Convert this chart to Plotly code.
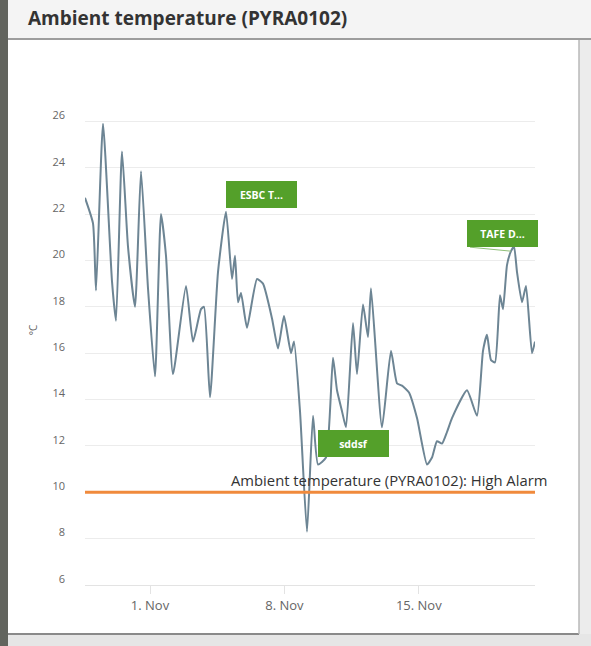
import plotly.graph_objects as go

# ---- data ----
times = [
    "2023-10-28 14:45", "2023-10-29 00:45", "2023-10-29 04:30", "2023-10-29 13:15",
    "2023-10-30 00:30", "2023-10-30 05:30", "2023-10-30 13:00", "2023-10-30 20:30",
    "2023-10-31 05:15", "2023-10-31 12:45", "2023-10-31 21:30", "2023-11-01 06:15",
    "2023-11-01 13:45", "2023-11-01 20:00", "2023-11-02 04:45", "2023-11-02 21:00",
    "2023-11-03 05:45", "2023-11-03 15:45", "2023-11-03 19:30", "2023-11-04 03:00",
    "2023-11-04 13:00", "2023-11-04 23:00", "2023-11-05 06:30", "2023-11-05 10:15",
    "2023-11-05 14:00", "2023-11-05 17:45", "2023-11-06 01:15", "2023-11-06 13:45",
    "2023-11-06 21:15", "2023-11-07 08:30", "2023-11-07 16:00", "2023-11-07 23:30",
    "2023-11-08 08:15", "2023-11-08 12:00", "2023-11-08 19:30", "2023-11-09 04:15",
    "2023-11-09 11:45", "2023-11-09 18:00", "2023-11-10 04:00", "2023-11-10 12:45",
    "2023-11-10 17:45", "2023-11-11 00:00", "2023-11-11 05:00", "2023-11-11 13:45",
    "2023-11-11 18:45", "2023-11-12 02:15", "2023-11-12 08:30", "2023-11-12 12:15",
    "2023-11-13 02:00", "2023-11-13 13:15", "2023-11-13 20:45", "2023-11-14 03:00",
    "2023-11-14 11:45", "2023-11-14 21:45", "2023-11-15 10:15", "2023-11-15 16:30",
    "2023-11-15 22:45", "2023-11-16 05:00", "2023-11-16 11:15", "2023-11-16 17:30",
    "2023-11-17 12:15", "2023-11-18 00:45", "2023-11-18 08:15", "2023-11-18 13:15",
    "2023-11-18 18:15", "2023-11-18 23:15", "2023-11-19 05:30", "2023-11-19 09:15",
    "2023-11-19 14:15", "2023-11-19 19:15", "2023-11-19 23:00", "2023-11-20 02:45",
    "2023-11-20 09:00", "2023-11-20 14:00", "2023-11-20 21:30", "2023-11-21 01:15",
]
temps = [
    22.7, 21.6, 18.7, 25.9,
    19.1, 17.4, 24.7, 20.6,
    18.0, 23.85, 18.8, 15.0,
    22.0, 20.2, 15.1, 18.9,
    16.5, 17.9, 18.0, 14.1,
    19.5, 22.1, 19.2, 20.2,
    18.2, 18.6, 17.1, 19.2,
    19.0, 17.5, 16.2, 17.6,
    16.0, 16.5, 13.5, 8.3,
    13.3, 11.2, 11.5, 15.8,
    14.4, 13.5, 12.8, 17.3,
    15.1, 18.1, 16.7, 18.8,
    12.8, 16.1, 14.7, 14.6,
    14.3, 13.2, 11.2, 11.5,
    12.2, 12.1, 12.6, 13.2,
    14.4, 13.3, 16.1, 16.8,
    15.7, 15.6, 18.5, 17.9,
    19.8, 20.4, 20.6, 19.5,
    18.2, 18.9, 16.0, 16.5,
]
alarm_level = 10
alarm_label = "Ambient temperature (PYRA0102): High Alarm"
title_text = "Ambient temperature (PYRA0102)"
y_title = "°C"

note_texts = ["ESBC T...", "sddsf", "TAFE D..."]
note_times = ["2023-11-04 23:00", "2023-11-09 20:00", "2023-11-19 19:15"]
note_values = [22.1, 11.4, 20.4]

x_tickvals = ["2023-11-01", "2023-11-08", "2023-11-15"]
x_ticktext = ["1. Nov", "8. Nov", "15. Nov"]
y_tickvals = [6, 8, 10, 12, 14, 16, 18, 20, 22, 24, 26, 28]
y_ticktext = ["6", "8", "10", "12", "14", "16", "18", "20", "22", "24", "26", ""]

# ---- layout geometry (pixels) ----
W, H = 591, 646
L, R, T, B = 85, 535, 75, 585


def px(x):
    return (x - L) / (R - L)


def py(y):
    return (B - y) / (B - T)


fig = go.Figure()
fig.add_trace(go.Scatter(
    x=times, y=temps, mode="lines",
    line=dict(color="#6d8594", width=2, shape="spline", smoothing=0.5),
    hoverinfo="skip", showlegend=False,
))
fig.add_trace(go.Scatter(
    x=[times[0], times[-1]], y=[alarm_level, alarm_level], mode="lines",
    line=dict(color="#f08a3c", width=3), hoverinfo="skip", showlegend=False,
))

shapes = [
    # photo edges
    dict(type="rect", xref="paper", yref="paper", x0=px(0), x1=px(8), y0=py(H), y1=py(0),
         fillcolor="#62645e", line_width=0, layer="below"),
    dict(type="rect", xref="paper", yref="paper", x0=px(579), x1=px(W), y0=py(H), y1=py(40),
         fillcolor="#ececec", line_width=0, layer="below"),
    dict(type="rect", xref="paper", yref="paper", x0=px(8), x1=px(W), y0=py(H), y1=py(634),
         fillcolor="#e6e6e6", line_width=0, layer="below"),
    dict(type="line", xref="paper", yref="paper", x0=px(8), x1=px(579), y0=py(634), y1=py(634),
         line=dict(color="#8a8a8a", width=2)),
    dict(type="line", xref="paper", yref="paper", x0=px(579), x1=px(579), y0=py(634), y1=py(40),
         line=dict(color="#b8b8b8", width=1.5)),
    # title bar
    dict(type="rect", xref="paper", yref="paper", x0=px(8), x1=px(W), y0=py(38), y1=py(0),
         fillcolor="#f4f4f4", line_width=0, layer="below"),
    dict(type="line", xref="paper", yref="paper", x0=px(8), x1=px(W), y0=py(39), y1=py(39),
         line=dict(color="#9d9d9d", width=2)),
]

annotations = [
    dict(text=f"<b>{title_text}</b>", xref="paper", yref="paper", x=px(26), y=py(18),
         xanchor="left", yanchor="middle", showarrow=False,
         font=dict(family="Open Sans", size=19, color="#333333")),
    dict(text=alarm_label, xref="paper", yref="y", x=px(549), y=alarm_level,
         xanchor="right", yanchor="bottom", yshift=0, showarrow=False,
         font=dict(family="Open Sans", size=14.8, color="#333333")),
]
# green labels: pixel offset of box bottom-left from the point
box_shift = [(0, 4), (-2, 3), (-44, 4)]
for t, xv, yv, (dx, dy) in zip(note_texts, note_times, note_values, box_shift):
    annotations.append(dict(
        text=f"<b>{t}</b>", x=xv, y=yv, xref="x", yref="y",
        xanchor="left", yanchor="bottom", xshift=dx, yshift=dy, showarrow=False,
        width=59, height=15, align="center", valign="middle",
        bgcolor="#54a02a", bordercolor="#54a02a", borderpad=5,
        font=dict(family="Open Sans", size=10.5, color="#ffffff"),
    ))
    if dx < -10:
        shapes.append(dict(
            type="line", xref="x", yref="y", xsizemode="pixel", ysizemode="pixel",
            xanchor=xv, yanchor=yv, x0=dx + 3, y0=dy, x1=0, y1=0,
            line=dict(color="#8fbf78", width=1),
        ))

fig.update_layout(shapes=shapes, annotations=annotations)

fig.update_layout(
    width=W, height=H,
    margin=dict(l=L, r=W - R, t=T, b=H - B),
    paper_bgcolor="#ffffff", plot_bgcolor="#ffffff",
    font=dict(family="Open Sans", color="#666666"),
    xaxis=dict(
        type="date", range=[times[0], times[-1]],
        tickvals=x_tickvals, ticktext=x_ticktext,
        showgrid=False, showline=True, linecolor="#e3e3e3", linewidth=1,
        ticks="outside", ticklen=8, tickcolor="#e3e3e3",
        tickfont=dict(size=13, color="#666666"), zeroline=False,
    ),
    yaxis=dict(
        range=[6, 28], tickvals=y_tickvals, ticktext=y_ticktext,
        showgrid=True, gridcolor="#ececec", gridwidth=1, zeroline=False,
        tickfont=dict(size=11, color="#666666"),
        ticklabelstandoff=19, ticklabelshift=-6,
        title=dict(text=y_title, font=dict(size=10, color="#666666"), standoff=12),
    ),
)

fig.write_html(
    "out.html",
    config={"displayModeBar": False},
    post_script="document.body.style.margin='0';document.body.style.overflow='hidden';",
)
